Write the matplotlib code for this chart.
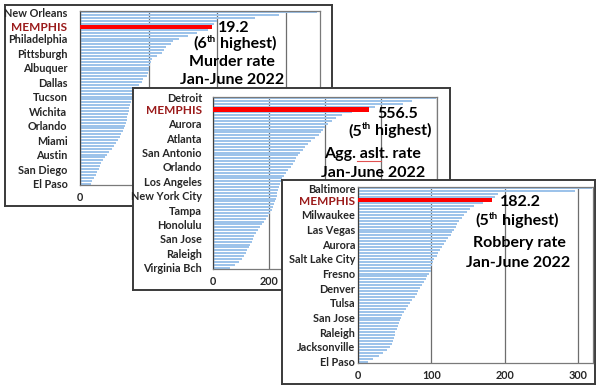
import matplotlib
matplotlib.use('Agg')
import matplotlib.pyplot as plt
from matplotlib.lines import Line2D

plt.rcParams['font.family'] = ['Lato', 'DejaVu Sans']
plt.rcParams['font.weight'] = 'bold'

# ---------------- data ----------------
murder_vals = [34.5, 29.0, 25.5, 20.0, 19.6, 19.2, 18.6, 17.0, 15.8, 14.5,
               13.6, 13.2, 12.6, 12.3, 12.0, 11.2, 10.5, 10.3, 10.2, 10.1,
               10.0, 9.9, 9.7, 9.2, 9.0, 8.6, 8.2, 7.9, 7.8, 7.7,
               7.6, 7.5, 7.3, 7.2, 7.1, 7.0, 6.9, 6.8, 6.7, 6.6,
               6.4, 6.2, 6.0, 5.8, 5.6, 5.3, 5.0, 4.6, 4.2, 3.9,
               3.6, 3.3, 3.1, 2.9, 2.7, 2.5, 2.3, 2.0, 1.8, 1.6]
murder_labels = ['New Orleans', 'MEMPHIS', 'Philadelphia', 'Pittsburgh', 'Albuquer',
                 'Dallas', 'Tucson', 'Wichita', 'Orlando', 'Miami', 'Austin',
                 'San Diego', 'El Paso']
murder_label_idx = [0, 5, 9, 14, 19, 24, 29, 34, 39, 44, 49, 54, 59]
murder_memphis = 5
murder_xticks = [0, 10, 20, 30]
murder_xticklabels = ['0', '', '', '']  # others hidden behind the next panel

assault_vals = [795, 712, 680, 580, 556.5, 495, 462, 440, 425, 412,
                400, 392, 385, 378, 365, 350, 338, 330, 320, 312,
                305, 298, 292, 285, 278, 268, 260, 252, 246, 242,
                238, 236, 233, 230, 227, 224, 221, 218, 215, 212,
                205, 198, 190, 182, 175, 168, 162, 155, 148, 143,
                138, 132, 127, 122, 118, 112, 104, 92, 78, 62]
assault_labels = ['Detroit', 'MEMPHIS', 'Aurora', 'Atlanta', 'San Antonio', 'Orlando',
                  'Los Angeles', 'New York City', 'Tampa', 'Honolulu', 'San Jose',
                  'Raleigh', 'Virginia Bch']
assault_label_idx = [0, 4, 9, 14, 19, 24, 29, 34, 39, 44, 49, 54, 59]
assault_memphis = 4
assault_xticks = [0, 200, 400, 600, 800]
assault_xticklabels = ['0', '200', '', '', '']

robbery_vals = [318, 296, 190, 186, 182.2, 170, 158, 152, 148, 145,
                141, 138, 135, 133, 131, 128, 126, 123, 120, 117,
                115, 112, 109, 107, 104, 102, 101, 100, 99, 97,
                94, 92, 90, 87, 85, 82, 80, 77, 74, 71,
                68, 65, 62, 60, 58, 57, 56, 55, 53, 51,
                50, 49, 48, 46, 44, 40, 34, 28, 20, 14]
robbery_labels = ['Baltimore', 'MEMPHIS', 'Milwaukee', 'Las Vegas', 'Aurora',
                  'Salt Lake City', 'Fresno', 'Denver', 'Tulsa', 'San Jose',
                  'Raleigh', 'Jacksonville', 'El Paso']
robbery_label_idx = [0, 4, 9, 14, 19, 24, 29, 34, 39, 44, 49, 54, 59]
robbery_memphis = 4
robbery_xticks = [0, 100, 200, 300]
robbery_xticklabels = ['0', '100', '200', '300']

# ---------------- layout ----------------
W, H = 600, 388
fig = plt.figure(figsize=(W / 100, H / 100), dpi=100)
renderer = fig.canvas.get_renderer()


def frac(l, t, r, b):
    return [l / W, 1 - b / H, (r - l) / W, (b - t) / H]


def ftext(x, y, s, z, **kw):
    return fig.text(x / W, 1 - y / H, s, zorder=z, **kw)


FS = 11.5


def rank_text(xc, ybase, z, num):
    # "(5th highest)" with a superscript "th"
    parts = [('(' + num, FS, 0.0), ('th', FS * 0.62, 6.0), ('highest)', FS, 0.0)]
    texts, widths = [], []
    for s, fs, dy in parts:
        t = fig.text(0, 0, s, fontsize=fs, fontweight='bold', color='black',
                     ha='left', va='baseline', zorder=z)
        texts.append(t)
        widths.append(t.get_window_extent(renderer).width)
    gap = 3.5
    total = sum(widths) + gap
    x = xc - total / 2
    for i, (t, w, (s, fs, dy)) in enumerate(zip(texts, widths, parts)):
        t.set_position((x / W, 1 - (ybase - dy) / H))
        x += w + (gap if i == 1 else 0)


BLUE = '#9dc3ea'
DARK = '#262626'
GRID = '#6e6e6e'


def panel(z, box, plot, vals, xmax, xticks, xticklabels, labels, label_idx,
          memphis, pad):
    bax = fig.add_axes(frac(*box))
    bax.set_zorder(z)
    bax.set_xticks([])
    bax.set_yticks([])
    bax.set_facecolor('white')
    for s in bax.spines.values():
        s.set_color('#3a3a3a')
        s.set_linewidth(1.4)

    ax = fig.add_axes(frac(*plot))
    ax.set_zorder(z + 1)
    ax.set_facecolor('white')
    n = len(vals)
    ax.barh(range(n), vals, height=0.7, color=BLUE, zorder=2)
    ax.barh(memphis, vals[memphis], height=1.5, color='#ff0000', zorder=3)
    ax.set_xlim(0, xmax)
    ax.set_ylim(n - 0.5, -0.5)
    ax.set_xticks(xticks)
    ax.set_xticklabels(xticklabels, fontsize=7.8, fontweight='bold', color=DARK)
    ax.xaxis.grid(True, color=GRID, linewidth=0.9, zorder=1)
    ax.set_axisbelow(True)
    ax.set_yticks(label_idx)
    ax.set_yticklabels(labels, fontsize=7.8, fontweight='bold', color=DARK)
    for t in ax.get_yticklabels():
        if t.get_text() == 'MEMPHIS':
            t.set_color('#9b1b1b')
            t.set_fontsize(8.6)
    ax.tick_params(axis='y', length=0, pad=pad)
    ax.tick_params(axis='x', length=0, pad=5)
    for s in ax.spines.values():
        s.set_color('#7a7a7a')
        s.set_linewidth(0.9)
    ax.spines['left'].set_color('#404040')
    return ax


# Panel 1: murder rate
panel(10, (5, 5, 332, 206), (80, 11, 320, 185), murder_vals, 35,
      murder_xticks, murder_xticklabels, murder_labels, murder_label_idx,
      murder_memphis, 9)
ftext(218, 28, '19.2', 12, fontsize=FS, fontweight='bold', color='black',
      ha='left', va='center')
rank_text(235, 48, 12, '6')
ftext(232, 62, 'Murder rate', 12, fontsize=FS, fontweight='bold',
      color='black', ha='center', va='center')
ftext(232, 80, 'Jan-June 2022', 12, fontsize=FS, fontweight='bold',
      color='black', ha='center', va='center')

# Panel 2: aggravated assault rate
panel(20, (133, 88, 450, 290), (213, 96.5, 437, 269), assault_vals, 800,
      assault_xticks, assault_xticklabels, assault_labels, assault_label_idx,
      assault_memphis, 8)
ftext(377, 114, '556.5', 22, fontsize=FS, fontweight='bold', color='black',
      ha='left', va='center')
rank_text(390, 135.5, 22, '5')
ftext(373, 154, 'Agg. aslt. rate', 22, fontsize=FS, fontweight='bold',
      color='black', ha='center', va='center')
ftext(373, 173, 'Jan-June 2022', 22, fontsize=FS, fontweight='bold',
      color='black', ha='center', va='center')
fig.add_artist(Line2D([357 / W, 381 / W], [1 - 160.5 / H, 1 - 160.5 / H],
                      color='#e05050', linewidth=0.8, zorder=22))

# Panel 3: robbery rate
panel(30, (282, 180, 595, 384), (358, 187, 593, 363), robbery_vals, 320,
      robbery_xticks, robbery_xticklabels, robbery_labels, robbery_label_idx,
      robbery_memphis, 2)
ftext(500, 202, '182.2', 32, fontsize=FS, fontweight='bold', color='black',
      ha='left', va='center')
rank_text(517, 225, 32, '5')
ftext(519, 243, 'Robbery rate', 32, fontsize=FS, fontweight='bold',
      color='black', ha='center', va='center')
ftext(518, 263, 'Jan-June 2022', 32, fontsize=FS, fontweight='bold',
      color='black', ha='center', va='center')

fig.savefig('out.png', dpi=100, facecolor='white')
